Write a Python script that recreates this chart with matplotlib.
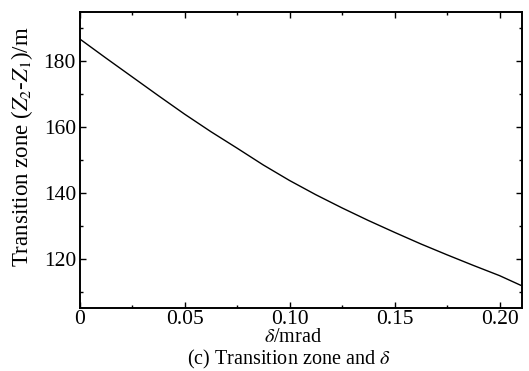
import matplotlib
matplotlib.use("Agg")
import matplotlib.pyplot as plt
import numpy as np

delta = [0.0, 0.0125, 0.025, 0.0375, 0.05, 0.0625, 0.075, 0.0875, 0.10, 0.1125,
         0.125, 0.1375, 0.15, 0.1625, 0.175, 0.1875, 0.20, 0.21]
zone = [186.7, 180.9, 175.2, 169.5, 163.9, 158.6, 153.6, 148.5, 143.8, 139.5,
        135.5, 131.7, 128.1, 124.6, 121.3, 118.1, 115.0, 112.1]

xticks = [0, 0.05, 0.10, 0.15, 0.20]
xticklabels = ["0", "0.05", "0.10", "0.15", "0.20"]
yticks = [120, 140, 160, 180]

plt.rcParams['font.family'] = ['Liberation Serif', 'DejaVu Serif']
plt.rcParams['mathtext.fontset'] = 'stix'

fig = plt.figure(figsize=(5.29, 3.71), dpi=100)
ax = fig.add_axes([79.5/529, 1 - 308/371, (522 - 79.5)/529, (308 - 12)/371])
ax.plot(delta, zone, color='black', lw=1.0)
ax.set_xlim(0, 0.2107)
ax.set_ylim(105.2, 194.8)
ax.set_xticks(xticks)
ax.set_xticklabels(xticklabels)
ax.set_yticks(yticks)
ax.set_xticks(np.arange(0.025, 0.21, 0.05), minor=True)
ax.set_yticks(np.arange(110, 195, 20), minor=True)
ax.tick_params(which='both', direction='in', top=True, right=True, labelsize=15.5, width=1.0)
ax.tick_params(which='major', length=4, pad=1.5)
ax.tick_params(which='minor', length=2.5)
ax.tick_params(axis='y', which='major', pad=2.5)
for s in ax.spines.values():
    s.set_linewidth(1.4)
ax.set_ylabel(r"Transition zone ($Z_2$-$Z_1$)/m", fontsize=16.5)
ax.yaxis.set_label_coords(-(79.5 - 22) / 442.5, (308 - 147) / 296)
ax.set_xlabel(r"$\delta$/mrad", fontsize=14.5)
ax.xaxis.set_label_coords((293 - 79.5) / 442.5, -(337.5 - 308) / 296)
ax.xaxis.label.set_va('center')
ax.yaxis.label.set_va('center')
fig.text(289 / 529, 0.0, r"(c) Transition zone and $\delta$",
         ha='center', va='bottom', fontsize=14.5)
fig.savefig("out.png", dpi=100)
